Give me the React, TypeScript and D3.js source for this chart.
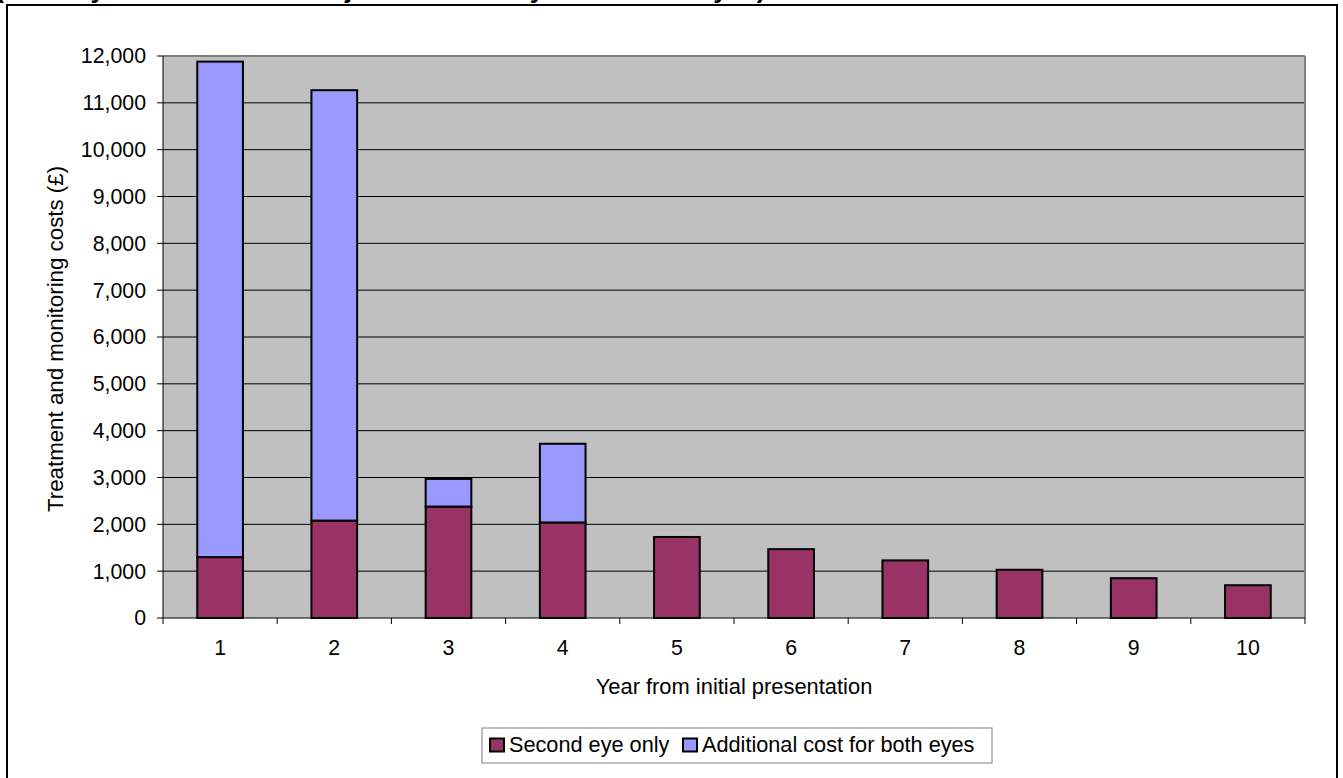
import React from "react";
import * as d3 from "d3";

const years = ["1", "2", "3", "4", "5", "6", "7", "8", "9", "10"];
const secondEyeOnly = [1300, 2080, 2380, 2040, 1730, 1470, 1230, 1030, 850, 700];
const additionalBothEyes = [10580, 9190, 590, 1680, 0, 0, 0, 0, 0, 0];
const yTicks = [0, 1000, 2000, 3000, 4000, 5000, 6000, 7000, 8000, 9000, 10000, 11000, 12000];
const seriesNames = ["Second eye only", "Additional cost for both eyes"];
const seriesColors = ["#993366", "#9999FF"];
const titleText =
  "Figure 6: Costs by year (monthly assessment and injection for two years in both eyes) – total treatment costs";

const W = 1343;
const H = 778;
const plot = { left: 163, top: 56, right: 1305, bottom: 618 };
const FONT = "Arial, 'Liberation Sans', sans-serif";

export default function App() {
  const x = d3
    .scaleBand<string>()
    .domain(years)
    .range([plot.left, plot.right])
    .paddingInner(0.6)
    .paddingOuter(0.3);
  const band = d3.scaleBand<string>().domain(years).range([plot.left, plot.right]);
  const y = d3.scaleLinear().domain([0, 12000]).range([plot.bottom, plot.top]);
  const fmt = d3.format(",");

  const rows = years.map((yr, i) => ({ yr, a: secondEyeOnly[i], b: additionalBothEyes[i] }));
  const stack = d3.stack<any>().keys(["a", "b"])(rows);

  return (
    <svg
      width={W}
      height={H}
      style={{ position: "absolute", left: 0, top: 0, background: "#fff" }}
      fontFamily={FONT}
    >
      <text x={1050} y={-2} textAnchor="end" fontSize={26} fontWeight="bold" fill="#000">
        {titleText}
      </text>
      {/* outer chart frame */}
      <rect x={7} y={5} width={1330} height={790} fill="#fff" stroke="#000" strokeWidth={2} />

      {/* plot area */}
      <rect
        x={plot.left}
        y={plot.top}
        width={plot.right - plot.left}
        height={plot.bottom - plot.top}
        fill="#C0C0C0"
      />
      {yTicks
        .filter((t) => t > 0 && t < 12000)
        .map((t) => (
          <line key={t} x1={plot.left} x2={plot.right} y1={y(t)} y2={y(t)} stroke="#000" strokeWidth={1} />
        ))}
      <line x1={plot.left} x2={plot.right} y1={plot.top} y2={plot.top} stroke="#808080" strokeWidth={2} />
      <line x1={plot.right} x2={plot.right} y1={plot.top} y2={plot.bottom} stroke="#808080" strokeWidth={2} />

      {/* bars */}
      {stack.map((s, si) =>
        s.map((d: any, i: number) =>
          d[1] - d[0] > 0 ? (
            <rect
              key={`${si}-${i}`}
              x={x(years[i])}
              y={y(d[1])}
              width={x.bandwidth()}
              height={y(d[0]) - y(d[1])}
              fill={seriesColors[si]}
              stroke="#000"
              strokeWidth={2}
            />
          ) : null
        )
      )}

      {/* axes */}
      <line x1={plot.left} x2={plot.left} y1={plot.top} y2={plot.bottom} stroke="#000" strokeWidth={1} />
      <line x1={plot.left} x2={plot.right} y1={plot.bottom} y2={plot.bottom} stroke="#000" strokeWidth={1} />
      {yTicks.map((t) => (
        <g key={t}>
          <line x1={plot.left - 6} x2={plot.left} y1={y(t)} y2={y(t)} stroke="#000" />
          <text x={146} y={y(t)} dy="0.35em" textAnchor="end" fontSize={21.3} fill="#000">
            {fmt(t)}
          </text>
        </g>
      ))}
      {years.map((yr) => (
        <line
          key={"t" + yr}
          x1={band(yr)!}
          x2={band(yr)!}
          y1={plot.bottom}
          y2={plot.bottom + 6}
          stroke="#000"
        />
      ))}
      <line x1={plot.right} x2={plot.right} y1={plot.bottom} y2={plot.bottom + 6} stroke="#000" />
      {years.map((yr) => (
        <text
          key={"l" + yr}
          x={band(yr)! + band.bandwidth() / 2}
          y={655}
          textAnchor="middle"
          fontSize={21.3}
          fill="#000"
        >
          {yr}
        </text>
      ))}
      <text x={(plot.left + plot.right) / 2} y={694} textAnchor="middle" fontSize={21.9} fill="#000">
        Year from initial presentation
      </text>
      <text
        transform={`translate(63, 339) rotate(-90)`}
        textAnchor="middle"
        fontSize={22.3}
        fill="#000"
      >
        Treatment and monitoring costs (£)
      </text>

      {/* legend */}
      <rect x={482} y={728} width={510} height={35} fill="#fff" stroke="#808080" strokeWidth={1} />
      {seriesNames.map((n, i) => {
        const lx = i === 0 ? 490 : 683;
        return (
          <g key={n}>
            <rect x={lx} y={738.5} width={14} height={13} fill={seriesColors[i]} stroke="#000" strokeWidth={2} />
            <text x={lx + 19} y={752} fontSize={21.7} fill="#000">
              {n}
            </text>
          </g>
        );
      })}
    </svg>
  );
}
